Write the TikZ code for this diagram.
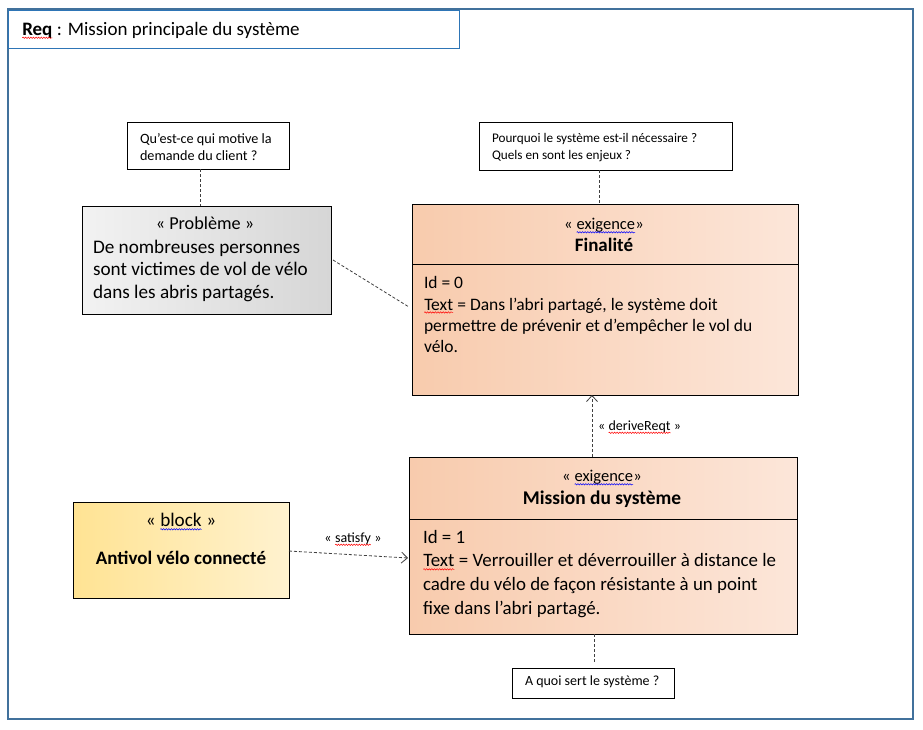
\documentclass[tikz,border=0pt]{standalone}
\usepackage{fontspec}
\setmainfont{Carlito}
\usetikzlibrary{arrows.meta,calc,decorations.pathmorphing}
\definecolor{frameblue}{HTML}{41719C}
\definecolor{titleblue}{HTML}{2E75B6}
\definecolor{reqL}{HTML}{F8CBAD}
\definecolor{reqR}{HTML}{FCE6D9}
\definecolor{blkL}{HTML}{FFE393}
\definecolor{blkR}{HTML}{FFF2CF}
\definecolor{prbL}{HTML}{F2F2F2}
\definecolor{prbR}{HTML}{D6D6D6}
\definecolor{conncol}{HTML}{404040}
\newcommand\wavyword[2]{\tikz[baseline=(ww.base),x=1pt,y=1pt]{\node[inner sep=0pt,outer sep=0pt] (ww) {#2};\draw[#1,line width=0.5pt,decorate,decoration={snake,amplitude=0.7pt,segment length=2.6pt}] ([yshift=-2.4pt]ww.base west) -- ([yshift=-2.4pt]ww.base east);}}
\newcommand\redwave[1]{\wavyword{red}{#1}}
\newcommand\bluewave[1]{\wavyword{blue}{#1}}
\newcommand\fs[1]{\fontsize{#1}{1.2\dimexpr#1pt\relax}\selectfont}
\begin{document}
\begin{tikzpicture}[x=1pt,y=-1pt,
  box/.style={draw=black,line width=1pt,inner sep=0pt,outer sep=0pt},
  notebox/.style={draw=black,line width=0.8pt,fill=white,inner sep=0pt,outer sep=0pt},
  txt/.style={inner sep=0pt,outer sep=0pt,text=black},
  conn/.style={draw=conncol,line width=0.8pt,dash pattern=on 3pt off 2pt},
  barb/.style={-{Straight Barb[length=6pt,width=11pt,line width=0.8pt]}}]
\useasboundingbox (0,0) rectangle (923,729);
\fill[white] (0,0) rectangle (923,729);
% frame
\node[draw=frameblue,line width=2pt,minimum width=905pt,minimum height=710pt,inner sep=0pt] (frame) at (460.5,364) {};
\node[draw=titleblue,line width=1pt,fill=white,minimum width=451pt,minimum height=38pt,inner sep=0pt] (titlebox) at (233.5,29) {};
\node[txt,anchor=mid west,font=\fs{19}] (title) at (22,33) {\textbf{\redwave{Req}} : Mission principale du système};
% notes
\node[notebox,minimum width=162pt,minimum height=47pt] (note1) at (208,145.5) {};
\node[txt,anchor=north west,align=left,font=\fontsize{14.2}{17}\selectfont] (note1t) at (140,133) {Qu’est-ce qui motive la\\demande du client ?};
\node[notebox,minimum width=253pt,minimum height=48pt] (note2) at (605.5,146) {};
\node[txt,anchor=north west,align=left,font=\fontsize{13.2}{17}\selectfont] (note2t) at (492,133.3) {Pourquoi le système est-il nécessaire ?\\Quels en sont les enjeux ?};
\node[notebox,minimum width=162pt,minimum height=30pt] (note3) at (593,683) {};
\node[txt,anchor=mid west,font=\fs{14}] (note3t) at (525,683.5) {A quoi sert le système ?};
% problem
\node[box,minimum width=249pt,minimum height=108pt,left color=prbL,right color=prbR] (prob) at (206.5,260) {};
\node[txt,anchor=mid,font=\fs{18.2}] (probst) at (205,227) {« Problème »};
\node[txt,anchor=north west,align=left,font=\fontsize{19.2}{22.5}\selectfont] (probt) at (93,240) {De nombreuses personnes\\sont victimes de vol de vélo\\dans les abris partagés.};
% finalite
\node[box,minimum width=386pt,minimum height=191pt,left color=reqL,right color=reqR] (fin) at (605,299.5) {};
\draw[line width=1pt] (fin.west |- 0,264) -- (fin.east |- 0,264);
\node[txt,anchor=mid,font=\fs{16.5}] (finst) at (604,227.5) {« \bluewave{exigence}»};
\node[txt,anchor=mid,font=\fs{19}\bfseries] (fint) at (604,249) {Finalité};
\node[txt,anchor=north west,align=left,font=\fontsize{17.5}{21.3}\selectfont] (finb) at (424,276.6) {Id = 0\\\redwave{Text} = Dans l’abri partagé, le système doit\\permettre de prévenir et d’empêcher le vol du\\vélo.};
% mission
\node[box,minimum width=388pt,minimum height=177pt,left color=reqL,right color=reqR] (mis) at (603,545.5) {};
\draw[line width=1pt] (mis.west |- 0,519) -- (mis.east |- 0,519);
\node[txt,anchor=mid,font=\fs{16.5}] (misst) at (602,479.5) {« \bluewave{exigence}»};
\node[txt,anchor=mid,font=\fs{19.4}\bfseries] (mist) at (602,502) {Mission du système};
\node[txt,anchor=north west,align=left,font=\fontsize{18.9}{23.8}\selectfont] (misb) at (423,530) {Id = 1\\\redwave{Text} = Verrouiller et déverrouiller à distance le\\cadre du vélo de façon résistante à un point\\fixe dans l’abri partagé.};
% block
\node[box,minimum width=216pt,minimum height=96pt,left color=blkL,right color=blkR] (blk) at (181,550) {};
\node[txt,anchor=mid,font=\fs{19.2}] (blkst) at (181,524.5) {« \bluewave{block} »};
\node[txt,anchor=mid,font=\fs{19}\bfseries] (blkt) at (181,562.5) {Antivol vélo connecté};
% connectors
\draw[conn] (note1.south -| 200,0) -- (prob.north -| 200,0);
\draw[conn] (note2.south -| 599,0) -- (fin.north -| 599,0);
\draw[conn] (mis.south -| 594,0) -- ([yshift=6pt]note3.north -| 594,0);
\draw[conn] ([xshift=2pt]prob.east) -- ([xshift=-3pt,yshift=-7.5pt]fin.west);
\draw[conn,barb] (blk.east |- 0,551) -- ([xshift=-1pt]mis.west |- 0,558);
\node[txt,anchor=mid,font=\fs{14}] (satl) at (353,540) {« \redwave{satisfy} »};
\draw[conn,barb] (mis.north -| 592,0) -- (fin.south -| 592,0);
\node[txt,anchor=mid west,font=\fs{14}] (derl) at (598,428) {« \redwave{deriveReqt} »};
\end{tikzpicture}
\end{document}
